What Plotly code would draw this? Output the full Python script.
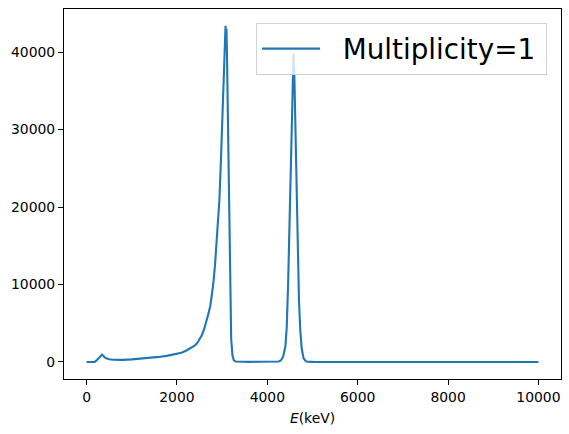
import plotly.graph_objects as go

# Spectrum (energy in keV, counts)
energy_kev = [0, 100, 180, 220, 260, 300, 340, 370, 400, 450, 500, 600, 700, 800, 1000,
              1200, 1400, 1600, 1800, 2000, 2100, 2200, 2300, 2400, 2450, 2500, 2550,
              2600, 2650, 2700, 2740, 2770, 2800, 2840, 2870, 2900, 2940, 2970, 2990,
              3020, 3040, 3060, 3075, 3085, 3095, 3105,
              3115, 3130, 3150, 3175, 3200, 3230, 3260, 3300, 3400, 3600, 3800, 4000,
              4150, 4250, 4300, 4350, 4400, 4430, 4460, 4490, 4520, 4550, 4570, 4580,
              4595, 4610, 4640, 4670, 4700, 4730, 4760, 4800, 4850, 4900, 5000, 6000,
              7000, 8000, 9000, 10000]
counts = [0, 0, 0, 200, 500, 750, 950, 800, 600, 450, 350, 280, 260, 270, 330,
          420, 520, 650, 820, 1050, 1200, 1450, 1750, 2150, 2450, 2900, 3450,
          4200, 5100, 6300, 7300, 8400, 9900, 12300, 14700, 17500, 21000, 25500, 29000,
          34500, 38000, 41000, 43400, 42000, 43000, 40500,
          36000, 31000, 20000, 8000, 3000, 800, 200, 50, 20, 10, 20, 30,
          40, 60, 200, 700, 2000, 4500, 10000, 18000, 28000, 36000, 39000, 39800,
          38000, 33000, 24000, 15000, 8000, 4000, 1800, 500, 100, 20, 5, 0,
          0, 0, 0, 0]

series_name = "\u00a0\u00a0Multiplicity=1\u2009"
x_title = "<i>E</i>(keV)"

fig = go.Figure()
fig.add_trace(go.Scatter(x=energy_kev, y=counts, mode="lines", name=series_name,
                         line=dict(color="#1f77b4", width=2.1)))

font_family = "DejaVu Sans, Liberation Sans, sans-serif"
fig.update_layout(
    width=569, height=434,
    margin=dict(l=64, r=8, t=9, b=55),
    plot_bgcolor="white", paper_bgcolor="white",
    font=dict(family=font_family, size=13.9, color="black"),
    showlegend=True,
    legend=dict(x=0.972, y=0.962, xanchor="right", yanchor="top",
                bgcolor="rgba(255,255,255,0.8)", bordercolor="rgba(204,204,204,0.9)",
                borderwidth=1, font=dict(size=27.8, family=font_family),
                itemwidth=58),
)
fig.update_xaxes(range=[-500, 10500], showgrid=False, zeroline=False, automargin=False,
                 showline=True, mirror=True, linecolor="black", linewidth=1.1,
                 ticks="outside", ticklen=5, tickwidth=1.1, tickcolor="black",
                 tickvals=[0, 2000, 4000, 6000, 8000, 10000],
                 ticktext=["0", "2000", "4000", "6000", "8000", "10000"],
                 title=dict(text=x_title, font=dict(size=13.9), standoff=9))
fig.update_yaxes(range=[-2200, 45560], showgrid=False, zeroline=False, automargin=False,
                 showline=True, mirror=True, linecolor="black", linewidth=1.1,
                 ticks="outside", ticklen=5, tickwidth=1.1, tickcolor="black",
                 tickvals=[0, 10000, 20000, 30000, 40000],
                 ticktext=["0", "10000", "20000", "30000", "40000"])

fig.write_html("out.html", config={"displayModeBar": False},
               post_script="document.body.style.margin='0';document.body.style.padding='0';")
